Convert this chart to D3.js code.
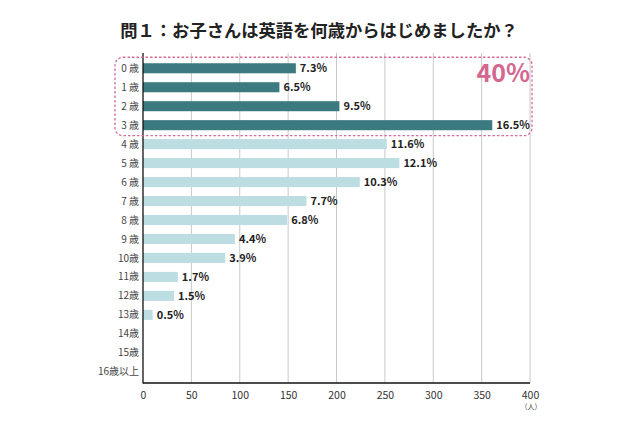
<!DOCTYPE html>
<html><head><meta charset="utf-8">
<script src="https://cdn.jsdelivr.net/npm/d3@7"></script>
<style>body{margin:0;background:#fff;}svg{display:block;}</style>
</head><body>
<svg id="c" width="640" height="427"></svg>
<script>
const categories = ["0 歳","1 歳","2 歳","3 歳","4 歳","5 歳","6 歳","7 歳","8 歳","9 歳","10歳","11歳","12歳","13歳","14歳","15歳","16歳以上"];
const counts = [158,141,203,361,252,265,224,169,149,95,85,36,32,10,0,0,0];
const pctLabels = ["7.3%","6.5%","9.5%","16.5%","11.6%","12.1%","10.3%","7.7%","6.8%","4.4%","3.9%","1.7%","1.5%","0.5%","","",""];
const highlighted = ["0 歳","1 歳","2 歳","3 歳"];
const xTicks = [0,50,100,150,200,250,300,350,400];
const title = "問１：お子さんは英語を何歳からはじめましたか？";
const highlightLabel = "40%";
const unitLabel = "（人）";

const svg = d3.select("#c");
const font = "'Noto Sans CJK JP','Noto Sans',sans-serif";
const x = d3.scaleLinear().domain([0,400]).range([143,530]);
const y = d3.scaleBand().domain(categories).range([58.5,381.5]).paddingInner(0.47).paddingOuter(0.25);

svg.append("text").attr("x",319).attr("y",37).attr("text-anchor","middle")
  .attr("font-family",font).attr("font-weight","700").attr("font-size",17.3).attr("fill","#222").text(title);

// gridlines
svg.append("g").selectAll("line").data(xTicks.slice(1)).join("line")
  .attr("x1",d=>x(d)).attr("x2",d=>x(d)).attr("y1",53).attr("y2",383)
  .attr("stroke","#c8c8c8").attr("stroke-width",1);

// bars
svg.append("g").selectAll("rect").data(categories).join("rect")
  .attr("x",x(0)).attr("y",d=>y(d)).attr("height",y.bandwidth())
  .attr("width",(d,i)=>x(counts[i])-x(0))
  .attr("fill",d=>highlighted.includes(d)?"#3b7b7f":"#bcdde2");

// value labels
svg.append("g").selectAll("text").data(categories).join("text")
  .attr("x",(d,i)=>x(counts[i])+4).attr("y",d=>y(d)+y.bandwidth()/2+4)
  .attr("font-family",font).attr("font-weight","700").attr("font-size",11).attr("fill","#222")
  .text((d,i)=>pctLabels[i]);

// category labels
svg.append("g").selectAll("text").data(categories).join("text")
  .attr("x",139).attr("y",d=>y(d)+y.bandwidth()/2+3.6).attr("text-anchor","end")
  .attr("font-family",font).attr("font-size",10).attr("fill","#444").text(d=>d);

// axes lines
svg.append("line").attr("x1",x(0)).attr("x2",x(0)).attr("y1",53).attr("y2",383.5).attr("stroke","#111").attr("stroke-width",1.3);
svg.append("line").attr("x1",x(0)).attr("x2",x(400)).attr("y1",383).attr("y2",383).attr("stroke","#111").attr("stroke-width",1.3);

// x tick labels
const xa = svg.append("g").attr("transform","translate(0,383)")
  .call(d3.axisBottom(x).tickValues(xTicks).tickSize(0).tickPadding(9).tickFormat(d3.format("d")));
xa.select(".domain").remove();
xa.selectAll("text").attr("font-family",font).attr("font-size",10.5).attr("fill","#333");
svg.append("text").attr("x",531).attr("y",409).attr("text-anchor","middle")
  .attr("font-family",font).attr("font-size",7).attr("fill","#444").text(unitLabel);

// highlight box
const boxTop = y(highlighted[0]) - 6, boxBottom = y(highlighted[highlighted.length-1]) + y.bandwidth() + 5.5;
svg.append("rect").attr("x",115).attr("y",boxTop).attr("width",417).attr("height",boxBottom-boxTop)
  .attr("rx",8).attr("ry",8).attr("fill","none").attr("stroke","#d86c98").attr("stroke-width",1.3)
  .attr("stroke-dasharray","2.5,2");
svg.append("text").attr("x",530).attr("y",82).attr("text-anchor","end")
  .attr("font-family",font).attr("font-weight","700").attr("font-size",25).attr("fill","#d4678f").text(highlightLabel);
</script>
</body></html>
